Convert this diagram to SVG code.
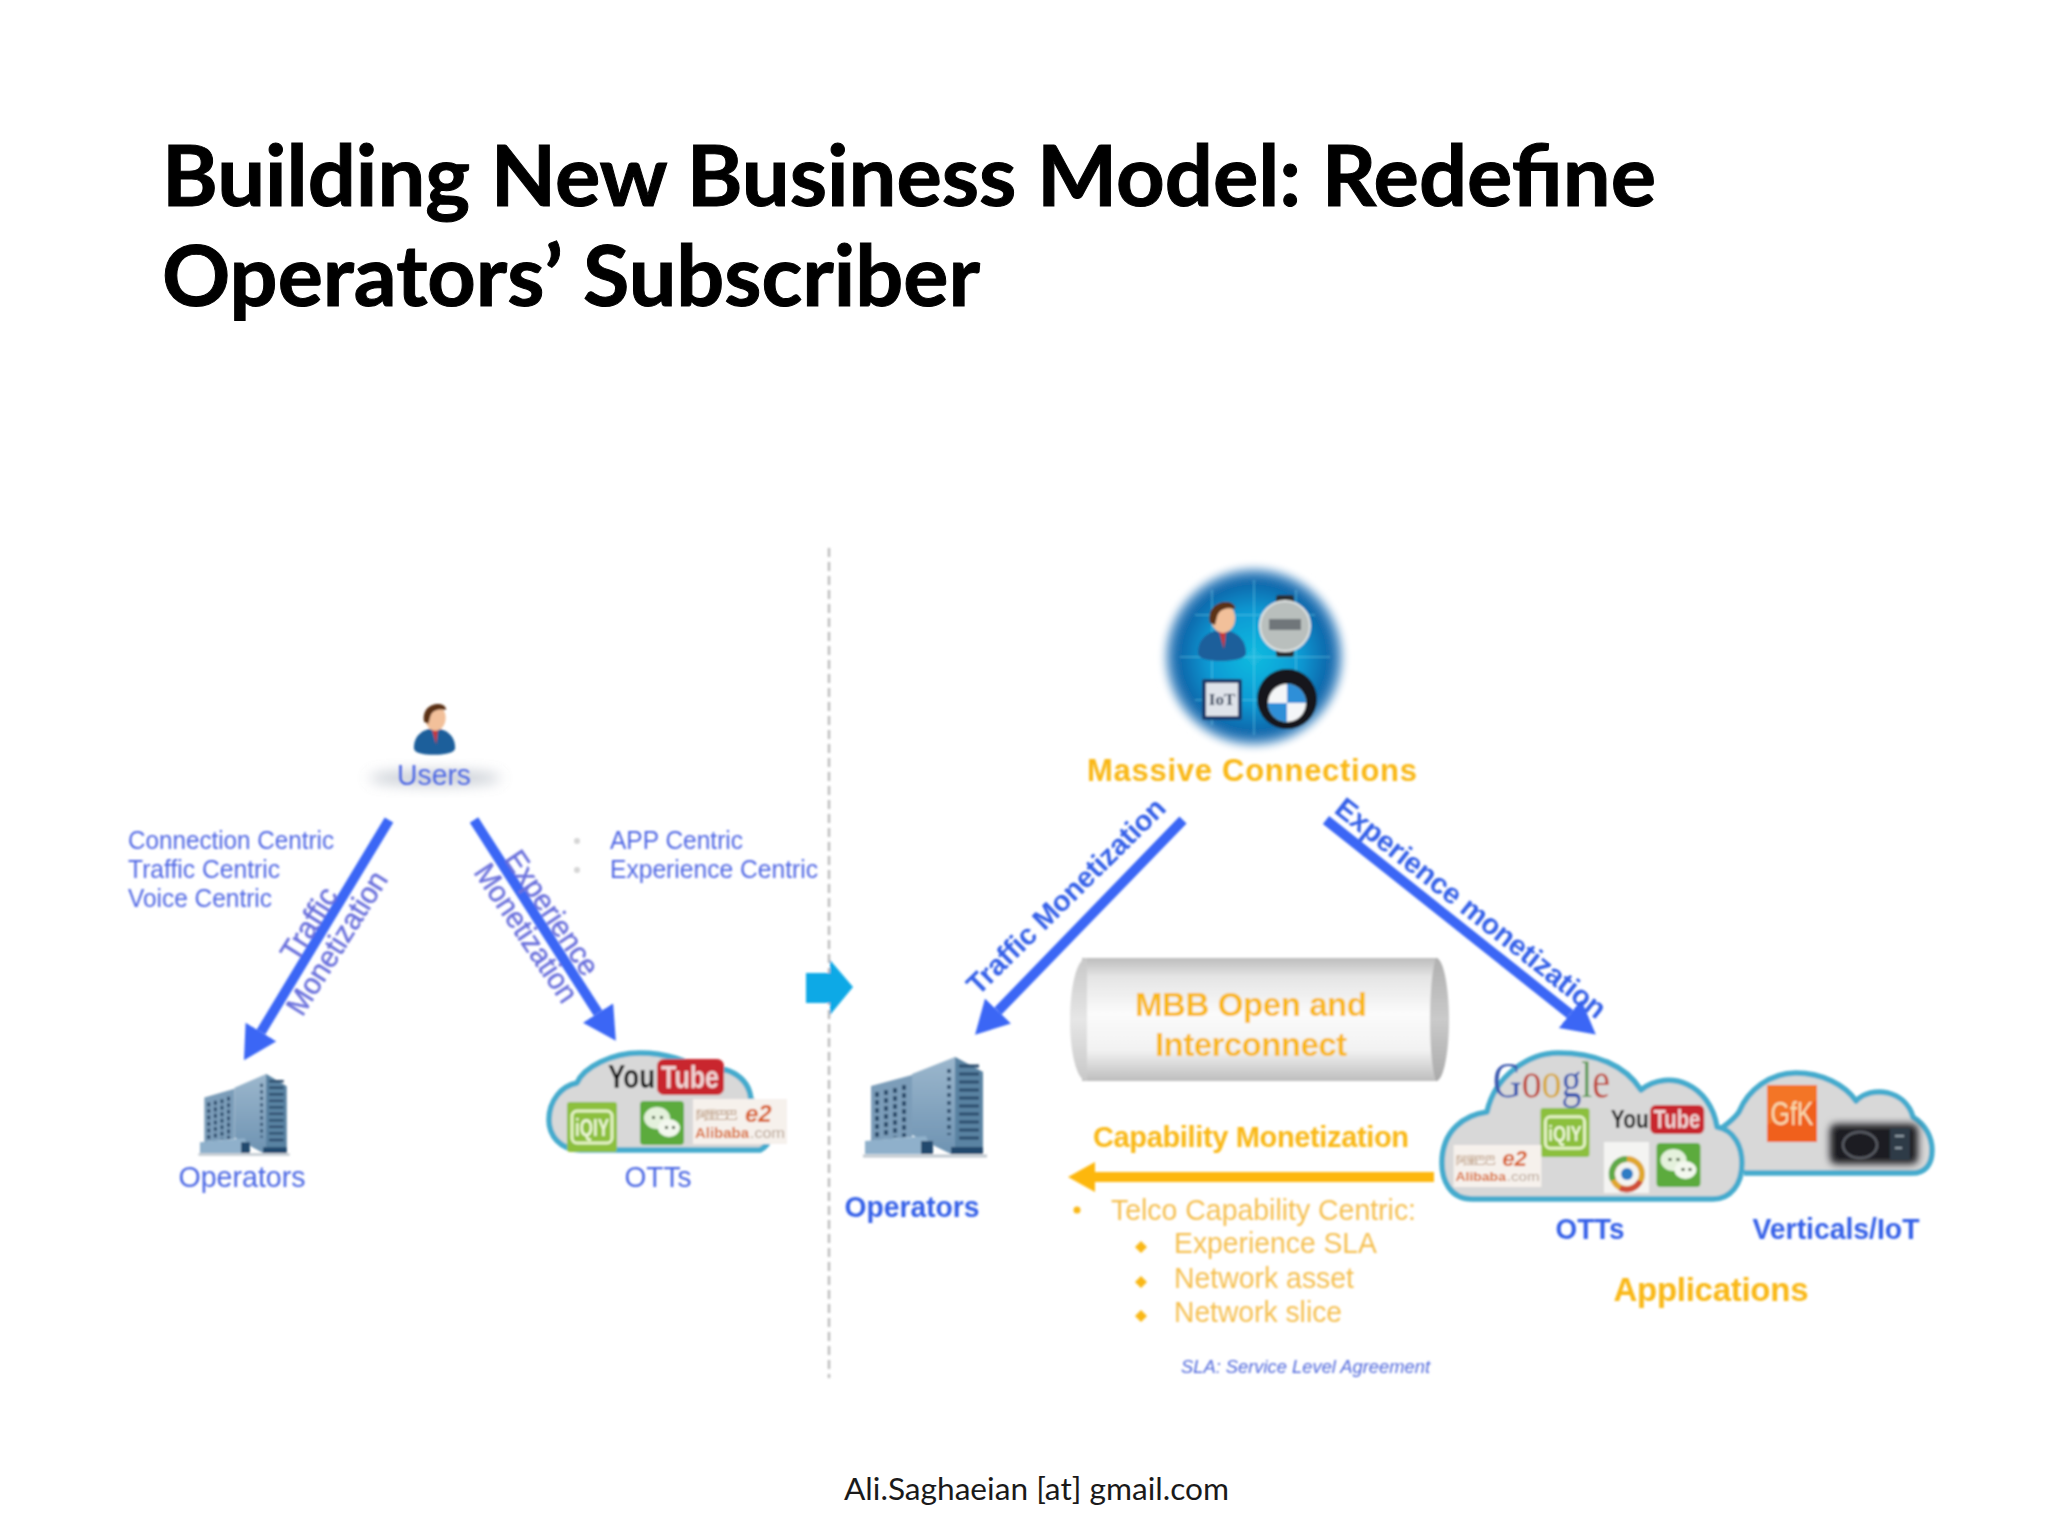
<svg xmlns="http://www.w3.org/2000/svg" width="2048" height="1536" viewBox="0 0 2048 1536">
<style>
.title{font-family:"Lato","Open Sans",sans-serif;font-weight:700;font-size:85px;fill:#000;stroke:#000;stroke-width:1px}
.foot{font-family:"Lato","Open Sans",sans-serif;font-size:31px;fill:#1a1a1a}
text.s{font-family:"Liberation Sans",Arial,sans-serif}
.lb{fill:#4f66e4;font-size:26px}
.lbm{fill:#4a66e4;font-size:29px}
.rot{fill:#6a70dc;font-size:30px;stroke:#6a70dc;stroke-width:.5px}
.bb{fill:#3560e8;font-size:29px;font-weight:700}
.bo{fill:#f9b815;font-weight:700}
.lo{fill:#f5bf50;font-size:30px}
.bl{fill:none;stroke:#3a66f5;stroke-width:10}
.cl{fill:#d8d8d8;stroke:#45abcd;stroke-width:5.5;stroke-linejoin:round}
</style>
<defs>
<marker id="hb" markerUnits="userSpaceOnUse" markerWidth="34" markerHeight="36" refX="0" refY="18" orient="auto"><path d="M0 0L33 18L0 36Z" fill="#3a66f5"/></marker>
<marker id="ho" markerUnits="userSpaceOnUse" markerWidth="28" markerHeight="30" refX="0" refY="15" orient="auto"><path d="M0 0L27 15L0 30Z" fill="#fdb70e"/></marker>
<filter id="soft" x="-2%" y="-2%" width="104%" height="104%"><feGaussianBlur stdDeviation="0.85"/></filter>
<filter id="bl3" x="-20%" y="-80%" width="140%" height="260%"><feGaussianBlur stdDeviation="7"/></filter>
<filter id="bl2" x="-20%" y="-20%" width="140%" height="140%"><feGaussianBlur stdDeviation="3.5"/></filter>
<radialGradient id="globe"><stop offset="0" stop-color="#12bbe0"/><stop offset=".5" stop-color="#0f9ad4"/><stop offset=".82" stop-color="#0f66aa"/><stop offset=".93" stop-color="#5b9fd0"/><stop offset="1" stop-color="#fff"/></radialGradient>
<linearGradient id="cyl" x1="0" y1="0" x2="0" y2="1"><stop offset="0" stop-color="#bcbcbc"/><stop offset=".15" stop-color="#e4e4e4"/><stop offset=".45" stop-color="#fbfbfb"/><stop offset=".75" stop-color="#f2f2f2"/><stop offset="1" stop-color="#bdbdbd"/></linearGradient>
<linearGradient id="capL" x1="0" y1="0" x2="0" y2="1"><stop offset="0" stop-color="#c8c8c8"/><stop offset=".5" stop-color="#e6e6e6"/><stop offset="1" stop-color="#c8c8c8"/></linearGradient>
<linearGradient id="capR" x1="0" y1="0" x2="0" y2="1"><stop offset="0" stop-color="#b0b0b0"/><stop offset=".5" stop-color="#cacaca"/><stop offset="1" stop-color="#aaa"/></linearGradient>
<linearGradient id="bFront" x1="0" y1="0" x2="0" y2="1"><stop offset="0" stop-color="#9cb7cd"/><stop offset="1" stop-color="#6e93b2"/></linearGradient>
<symbol id="building" viewBox="0 0 128 102" preserveAspectRatio="none">
<path d="M2 99L126 99" stroke="#bfc7cf" stroke-width="3"/>
<path d="M51 17L94 0L122 15L122 97L90 97L51 78Z" fill="url(#bFront)"/>
<path d="M94 0L122 15L122 97L94 97Z" fill="#5a83a3"/>
<path d="M10 29L51 18L51 80L10 84Z" fill="#7c9db9"/>
<path d="M98 9H118M98 17H118M98 25H118M98 33H118M98 41H118M98 49H118M98 57H118M98 65H118M98 73H118M98 81H118" stroke="#2b4c6c" stroke-width="3"/>
<path d="M88 12V78" stroke="#2b4c6c" stroke-width="3.5" stroke-dasharray="4 4"/>
<path d="M16 35V80M25 33V80M34 31V80M43 28V80" stroke="#2b4c6c" stroke-width="4" stroke-dasharray="5 3"/>
<path d="M4 84L65 79L72 97L4 97Z" fill="#8fb0cb"/>
<path d="M60 84L72 84L72 97L60 97ZM90 90L122 90L122 97L90 97Z" fill="#214a6e"/>
</symbol>
<symbol id="person" viewBox="0 0 50 60">
<path d="M1 52C1 40 8 33 18 30L32 30C42 33 49 40 49 52C49 58 35 60 24 60C12 60 1 58 1 52Z" fill="#1f5f9b"/>
<path d="M22 30L29 30L27 48Z" fill="#c8383a"/>
<ellipse cx="26" cy="17" rx="12" ry="15" fill="#f2c09a"/>
<path d="M13 22C10 8 20 0 31 1C37 2 39 6 38 8C30 6 22 8 20 16L18 24Z" fill="#5b3015"/>
</symbol>
<symbol id="iqiy" viewBox="0 0 50 50">
<rect width="50" height="50" rx="3" fill="#8cc03c"/>
<rect x="5" y="9" width="40" height="32" rx="5" fill="none" stroke="#e6f3c8" stroke-width="3"/>
<text class="s" x="25" y="34" text-anchor="middle" font-size="23" font-weight="700" fill="#eef7d8" textLength="34" lengthAdjust="spacingAndGlyphs">iQIY</text>
</symbol>
<symbol id="wechat" viewBox="0 0 44 44">
<rect width="44" height="44" rx="4" fill="#5cab3d"/>
<ellipse cx="17" cy="17" rx="13" ry="11" fill="#e4f1dc"/>
<ellipse cx="29" cy="27" rx="11" ry="9" fill="#f3f8ee"/>
<path d="M12 15h3v3h-3zM20 15h3v3h-3zM25 25h3v3h-3zM32 25h3v3h-3z" fill="#48603f"/>
</symbol>
<symbol id="alibaba" viewBox="0 0 94 45">
<rect width="94" height="45" fill="#f6f1ec"/>
<text class="s" x="3" y="20" font-size="12" fill="#b08a6a" textLength="42">阿里巴巴</text>
<text class="s" x="52" y="23" font-size="24" font-style="italic" font-weight="700" fill="#d9622a">e2</text>
<text class="s" x="2" y="39" font-size="14" font-weight="700" fill="#d9703a" textLength="54" lengthAdjust="spacingAndGlyphs">Alibaba</text>
<text class="s" x="57" y="39" font-size="14" fill="#b9a596" textLength="35" lengthAdjust="spacingAndGlyphs">.com</text>
</symbol>
<symbol id="youtube" viewBox="0 0 116 36">
<text class="s" x="0" y="29" font-size="33" font-weight="700" fill="#111" textLength="47" lengthAdjust="spacingAndGlyphs">You</text>
<rect x="49" y="0" width="67" height="36" rx="7" fill="#c9282d"/>
<text class="s" x="82" y="29" text-anchor="middle" font-size="32" font-weight="700" fill="#f0d5d5" textLength="58" lengthAdjust="spacingAndGlyphs">Tube</text>
</symbol>
</defs>
<rect width="2048" height="1536" fill="#fff"/>
<g id="title">
<text class="title" x="162" y="206" textLength="1494" lengthAdjust="spacingAndGlyphs">Building New Business Model: Redefine</text>
<text class="title" x="162" y="306" textLength="818" lengthAdjust="spacingAndGlyphs">Operators’ Subscriber</text>
</g>
<g id="footer"><text class="foot" x="844" y="1500" textLength="385" lengthAdjust="spacingAndGlyphs">Ali.Saghaeian [at] gmail.com</text></g>
<g filter="url(#soft)">
<g id="divider"><path d="M829 548V1378" stroke="#bdbdbd" stroke-width="2.5" stroke-dasharray="9 5" fill="none"/></g>
<g id="transition-arrow"><path d="M806 973H830V960L853 987L830 1015V1003H806Z" fill="#0ca9e6"/></g>

<g id="left-users">
<ellipse cx="435" cy="778" rx="66" ry="7" fill="#9aa3b0" opacity=".6" filter="url(#bl3)"/>
<use href="#person" x="413" y="703" width="43" height="52"/>
<text class="s lbm" x="434" y="785" text-anchor="middle" textLength="74" lengthAdjust="spacingAndGlyphs">Users</text>
</g>
<g id="left-traffic-notes">
<text class="s lb" x="128" y="849" textLength="206" lengthAdjust="spacingAndGlyphs">Connection Centric</text>
<text class="s lb" x="128" y="878" textLength="152" lengthAdjust="spacingAndGlyphs">Traffic Centric</text>
<text class="s lb" x="128" y="907" textLength="144" lengthAdjust="spacingAndGlyphs">Voice Centric</text>
</g>
<g id="left-app-notes">
<circle cx="577" cy="841" r="3" fill="#d5d5d5"/><circle cx="577" cy="870" r="3" fill="#d5d5d5"/>
<text class="s lb" x="610" y="849" textLength="133" lengthAdjust="spacingAndGlyphs">APP Centric</text>
<text class="s lb" x="610" y="878" textLength="208" lengthAdjust="spacingAndGlyphs">Experience Centric</text>
</g>
<g id="left-operators">
<use href="#building" x="197" y="1074" width="94" height="83"/>
<text class="s lbm" x="242" y="1187" text-anchor="middle" textLength="127" lengthAdjust="spacingAndGlyphs">Operators</text>
</g>
<g id="left-otts">
<path class="cl" d="M580 1150C560 1150 549 1135 549 1120C549 1100 562 1086 577 1083C584 1067 612 1053 640 1053C665 1053 690 1061 700 1071C725 1063 749 1076 751 1100C774 1108 779 1140 760 1150Z"/>
<use href="#youtube" x="608" y="1059" width="116" height="36"/>
<use href="#iqiy" x="567" y="1102" width="50" height="50"/>
<use href="#wechat" x="640" y="1101" width="44" height="44"/>
<use href="#alibaba" x="693" y="1099" width="94" height="45"/>
<text class="s lbm" x="658" y="1187" text-anchor="middle" textLength="67" lengthAdjust="spacingAndGlyphs">OTTs</text>
</g>

<g id="massive-connections">
<circle cx="1254" cy="657" r="92" fill="url(#globe)" filter="url(#bl2)"/>
<path d="M1180 657H1330M1254 580V735M1195 615H1315M1195 700H1315M1212 590V725M1296 590V725" stroke="#7fdcf0" stroke-width="1.5" opacity=".4" fill="none"/>
<use href="#person" x="1197" y="601" width="50" height="60"/>
<g id="meter"><rect x="1276" y="595" width="18" height="62" rx="3" fill="#2b2f33"/><circle cx="1285" cy="626" r="25" fill="#b9bfbd" stroke="#e0e4e4" stroke-width="2"/><rect x="1269" y="619" width="32" height="11" fill="#70767a"/></g>
<g id="iot"><rect x="1202" y="679" width="40" height="41" rx="2" fill="#1f3d6e"/><rect x="1206" y="683" width="32" height="33" fill="#dfe3ea"/><text x="1222" y="705" text-anchor="middle" font-family="Liberation Serif,serif" font-weight="700" font-size="17" fill="#2b3a55">IoT</text></g>
<g id="bmw"><circle cx="1287" cy="699" r="30" fill="#17181b"/><circle cx="1287" cy="703" r="19" fill="#f4f6f8"/><path d="M1287 703V684A19 19 0 0 0 1268 703ZM1287 703V722A19 19 0 0 0 1306 703Z" fill="#2f8fd8" transform="rotate(90 1287 703)"/></g>
<text class="s bo" x="1087" y="781" font-size="31" textLength="330" lengthAdjust="spacing">Massive Connections</text>
</g>

<g id="interconnect">
<rect x="1082" y="958" width="356" height="123" fill="url(#cyl)"/>
<path d="M1087 958C1076 958 1070 990 1070 1020C1070 1050 1076 1081 1087 1081Z" fill="url(#capL)"/>
<path d="M1436 958C1444 958 1449 990 1449 1020C1449 1050 1444 1081 1436 1081C1428 1060 1428 980 1436 958Z" fill="url(#capR)"/>
<text class="s bo" x="1251" y="1016" font-size="33" text-anchor="middle" textLength="232" lengthAdjust="spacing">MBB Open and</text>
<text class="s bo" x="1251" y="1056" font-size="33" text-anchor="middle" textLength="192" lengthAdjust="spacing">Interconnect</text>
</g>

<g id="right-operators">
<use href="#building" x="861" y="1057" width="128" height="102"/>
<text class="s bb" x="912" y="1217" text-anchor="middle" textLength="135" lengthAdjust="spacingAndGlyphs">Operators</text>
</g>

<g id="capability">
<text class="s bo" x="1093" y="1147" font-size="29" textLength="316" lengthAdjust="spacing">Capability Monetization</text>
<circle cx="1077" cy="1210" r="3.5" fill="#f9b815"/>
<text class="s lo" x="1111" y="1220" textLength="305" lengthAdjust="spacingAndGlyphs">Telco Capability Centric:</text>
<path d="M1141 1241l6 6l-6 6l-6-6zM1141 1276l6 6l-6 6l-6-6zM1141 1310l6 6l-6 6l-6-6z" fill="#f9b815"/>
<text class="s lo" x="1174" y="1253" textLength="203" lengthAdjust="spacingAndGlyphs">Experience SLA</text>
<text class="s lo" x="1174" y="1288" textLength="180" lengthAdjust="spacingAndGlyphs">Network asset</text>
<text class="s lo" x="1174" y="1322" textLength="168" lengthAdjust="spacingAndGlyphs">Network slice</text>
<text class="s" x="1181" y="1373" font-size="19" font-style="italic" fill="#5068dc" textLength="249" lengthAdjust="spacingAndGlyphs">SLA: Service Level Agreement</text>
</g>

<g id="verticals-cloud">
<path class="cl" d="M1722 1128C1730 1122 1735 1118 1739 1112C1748 1090 1770 1073 1796 1073C1822 1073 1845 1085 1856 1101C1872 1085 1905 1090 1913 1117C1926 1125 1932 1138 1932 1150C1932 1165 1925 1173 1912 1173L1744 1173"/>
<rect x="1767" y="1085" width="50" height="57" fill="#f0601e"/>
<path d="M1767 1085H1817V1100L1767 1125Z" fill="#f47a28" opacity=".8"/>
<text class="s" x="1792" y="1125" text-anchor="middle" font-size="33" fill="#f8dcb0" textLength="43" lengthAdjust="spacingAndGlyphs">GfK</text>
<rect x="1830" y="1124" width="88" height="40" rx="6" fill="#1b1c20" filter="url(#bl2)"/>
<ellipse cx="1860" cy="1145" rx="17" ry="13" fill="none" stroke="#585b63" stroke-width="2.5"/>
<rect x="1890" y="1128" width="20" height="32" fill="#2e3a46"/>
<path d="M1895 1136h9M1895 1148h7" stroke="#8f9ba5" stroke-width="2"/>
</g>
<g id="otts-cloud">
<path class="cl" d="M1472 1199C1450 1199 1442 1180 1442 1163C1442 1130 1465 1115 1487 1112C1495 1075 1530 1053 1558 1053C1595 1053 1625 1065 1641 1090C1670 1068 1710 1085 1717 1127C1735 1130 1742 1148 1742 1163C1742 1185 1730 1199 1713 1199Z"/>
<text x="1493" y="1097" font-family="Liberation Serif,serif" font-size="50" textLength="117" lengthAdjust="spacingAndGlyphs"><tspan fill="#3d5ab0">G</tspan><tspan fill="#c04a3c">o</tspan><tspan fill="#d7a93c">o</tspan><tspan fill="#3d5ab0">g</tspan><tspan fill="#5c9a55">l</tspan><tspan fill="#c04a3c">e</tspan></text>
<use href="#iqiy" x="1539" y="1108" width="52" height="49"/>
<use href="#youtube" x="1610" y="1105" width="95" height="29"/>
<use href="#alibaba" x="1451" y="1145" width="93" height="42"/>
<rect x="1604" y="1142" width="45" height="51" fill="#f4f4f2"/>
<circle cx="1627" cy="1174" r="15" fill="none" stroke="#e0a72e" stroke-width="6"/>
<path d="M1627 1159A15 15 0 0 0 1613 1180" fill="none" stroke="#5eaa4a" stroke-width="6"/>
<path d="M1640 1181A15 15 0 0 1 1620 1188" fill="none" stroke="#d0503a" stroke-width="6"/>
<circle cx="1627" cy="1174" r="6" fill="#2d7cc4"/>
<use href="#wechat" x="1656" y="1143" width="45" height="44"/>
<text class="s bb" x="1590" y="1239" text-anchor="middle" textLength="69" lengthAdjust="spacingAndGlyphs">OTTs</text>
<text class="s bb" x="1836" y="1239" text-anchor="middle" textLength="167" lengthAdjust="spacingAndGlyphs">Verticals/IoT</text>
<text class="s bo" x="1711" y="1301" font-size="33" text-anchor="middle" textLength="195" lengthAdjust="spacing">Applications</text>
</g>

<g id="connectors">
<path class="bl" d="M389 820L261 1032" marker-end="url(#hb)"/>
<path class="bl" d="M474 820L598 1013" marker-end="url(#hb)"/>
<path class="bl" d="M1183 820L998 1011" marker-end="url(#hb)"/>
<path class="bl" d="M1326 820L1570 1014" marker-end="url(#hb)"/>
<path d="M1434 1177H1095" fill="none" stroke="#fdb70e" stroke-width="10" marker-end="url(#ho)"/>
</g>
<g id="connector-labels">
<text class="s rot" transform="translate(309 924) rotate(-58)" y="10" text-anchor="middle" textLength="80" lengthAdjust="spacingAndGlyphs">Traffic</text>
<text class="s rot" transform="translate(337 943) rotate(-58)" y="10" text-anchor="middle" textLength="163" lengthAdjust="spacingAndGlyphs">Monetization</text>
<text class="s rot" transform="translate(552 913) rotate(56)" y="10" text-anchor="middle" textLength="144" lengthAdjust="spacingAndGlyphs">Experience</text>
<text class="s rot" transform="translate(526 933) rotate(56)" y="10" text-anchor="middle" textLength="160" lengthAdjust="spacingAndGlyphs">Monetization</text>
<text class="s" transform="translate(1066 896) rotate(-44.6)" y="10" text-anchor="middle" font-size="29" font-weight="700" fill="#3560e8" textLength="266" lengthAdjust="spacing">Traffic Monetization</text>
<text class="s" transform="translate(1471 908) rotate(38.3)" y="10" text-anchor="middle" font-size="29" font-weight="700" fill="#3560e8" textLength="336" lengthAdjust="spacing">Experience monetization</text>
</g>
</g>
</svg>
